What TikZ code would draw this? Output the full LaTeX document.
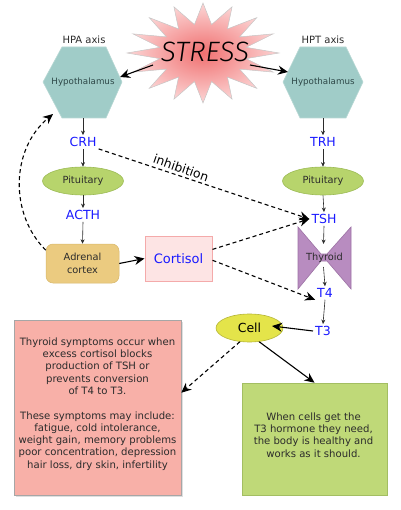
\documentclass[tikz,border=0pt]{standalone}
\usepackage{fontspec}
\setmainfont{DejaVu Sans}
\newfontfamily\stressfont{Fira Sans Light Italic}
\usetikzlibrary{arrows.meta,shapes.geometric,shadows}
\definecolor{hexfill}{HTML}{A0CCC8}
\definecolor{hexdraw}{HTML}{B8D8D4}
\definecolor{pitfill}{HTML}{B7D46C}
\definecolor{pitdraw}{HTML}{9CBB55}
\definecolor{adrfill}{HTML}{EBCB80}
\definecolor{adrdraw}{HTML}{D8B86C}
\definecolor{cortfill}{HTML}{FDE4E4}
\definecolor{cortdraw}{HTML}{F4AAAA}
\definecolor{thyfill}{HTML}{B88CC0}
\definecolor{thydraw}{HTML}{9C72A4}
\definecolor{cellfill}{HTML}{E4E44A}
\definecolor{celldraw}{HTML}{B4B436}
\definecolor{redfill}{HTML}{F8B0A8}
\definecolor{greenfill}{HTML}{BFD978}
\definecolor{greendraw}{HTML}{A3BE62}
\definecolor{hormone}{HTML}{1A1AFF}
\definecolor{darktext}{HTML}{2B2B2B}
\definecolor{hextext}{HTML}{2E4848}
\definecolor{starin}{HTML}{F07070}
\definecolor{starout}{HTML}{FCD6D6}
\begin{document}
\begin{tikzpicture}[x=1pt,y=-1pt,
  hormonetext/.style={text=hormone,font=\fontsize{12.5}{14}\selectfont,inner sep=2pt},
  smallarrow/.style={-{Stealth[length=4.5pt,width=4pt]},line width=0.6pt,draw=darktext},
  bigarrow/.style={-{Stealth[length=10pt,width=9pt]},line width=1.1pt,draw=black},
  dasharrow/.style={-{Stealth[length=10pt,width=9pt]},line width=1.1pt,draw=black,dash pattern=on 4pt off 3pt},
  pitstyle/.style={ellipse,fill=pitfill,draw=pitdraw,line width=0.6pt,minimum width=81pt,minimum height=28pt,inner sep=0pt,font=\fontsize{9.8}{12}\selectfont,text=darktext},
  hexlabel/.style={font=\fontsize{8.7}{10}\selectfont,text=hextext,minimum width=79pt,minimum height=71pt,inner sep=0pt},
  axislabel/.style={font=\fontsize{10}{12}\selectfont,text=darktext},
  infobox/.style={align=center,font=\fontsize{10.1}{12.3}\selectfont,text=darktext,inner sep=0pt}
]
\useasboundingbox (0,0) rectangle (400,510);

% star
\draw[draw=gray!45,line width=0.5pt,inner color=starin,outer color=starout]
  (203,3) \foreach \i in {1,...,31}{ -- ({203+(mod(\i,2)==0?76:44)*sin(\i*11.25)},{53-(mod(\i,2)==0?50:29)*cos(\i*11.25)}) } -- cycle;
\node (stress) at (205,52) {\stressfont\fontsize{28}{30}\selectfont STRESS};

% hexagons
\draw[fill=hexfill,draw=hexdraw,line width=0.6pt] (62,47) -- (106,47) -- (122,82) -- (106,118) -- (62,118) -- (43,82) -- cycle;
\draw[fill=hexfill,draw=hexdraw,line width=0.6pt] (300,47) -- (346,47) -- (363,82) -- (346,118) -- (300,118) -- (283,82) -- cycle;
\node[hexlabel] (hypL) at (83,82.5) {Hypothalamus};
\node[hexlabel] (hypR) at (323,82.5) {Hypothalamus};
\node[axislabel] (hpa) at (84,40) {HPA axis};
\node[axislabel] (hpt) at (323,40) {HPT axis};

% left column
\node[hormonetext] (crh) at (83,142) {CRH};
\node[pitstyle] (pitL) at (83,181) {Pituitary};
\node[hormonetext] (acth) at (83,215) {ACTH};
\node[rounded corners=7pt,fill=adrfill,draw=adrdraw,line width=0.5pt,minimum width=73pt,minimum height=39pt,inner sep=0pt,align=center,font=\fontsize{9.8}{13}\selectfont,text=darktext] (adr) at (82.5,263.5) {Adrenal\\cortex};
\node[fill=cortfill,draw=cortdraw,line width=1pt,minimum width=67pt,minimum height=45pt,inner sep=0pt,text=hormone,font=\fontsize{13}{15}\selectfont] (cort) at (178.5,258.5) {Cortisol};

% right column
\node[hormonetext] (trh) at (323,142) {TRH};
\node[pitstyle] (pitR) at (323,181) {Pituitary};
\node[hormonetext] (tsh) at (324,219) {TSH};
\draw[fill=thyfill,draw=thydraw,line width=0.6pt] (298,227) -- (321,254) -- (327,254) -- (351,227) -- (351,289) -- (327,261) -- (321,261) -- (298,289) -- cycle;
\node[font=\fontsize{9.8}{12}\selectfont,text=darktext] (thy) at (324.5,257.5) {Thyroid};
\coordinate (thyin) at (323.5,244);
\coordinate (thyout) at (323.5,267);
\node[hormonetext] (t4) at (325,293) {T4};
\node[hormonetext] (t3) at (323,331) {T3};

% cell and boxes
\node[ellipse,fill=cellfill,draw=celldraw,line width=0.6pt,minimum width=67pt,minimum height=28pt,inner sep=0pt,font=\fontsize{12.5}{14}\selectfont,text=black] (cell) at (249.5,328) {Cell};
\node[fill=redfill,draw=gray!70,line width=0.6pt,minimum width=167pt,minimum height=175pt,inner sep=0pt,
  drop shadow={shadow xshift=2pt,shadow yshift=-2pt,opacity=0.25}] (red) at (97.5,407.5) {};
\node[infobox] (redtext) at (97.5,404) {Thyroid symptoms occur when\\excess cortisol blocks\\production of TSH or\\prevents conversion\\of T4 to T3.\\[12.3pt]These symptoms may include:\\fatigue, cold intolerance,\\weight gain, memory problems\\poor concentration, depression\\hair loss, dry skin, infertility};
\node[fill=greenfill,draw=greendraw,line width=0.6pt,minimum width=145pt,minimum height=112pt,inner sep=0pt] (green) at (314.5,439) {};
\node[infobox] (greentext) at (313.5,435) {When cells get the\\T3 hormone they need,\\the body is healthy and\\works as it should.};

% inhibition label
\node[rotate=-19.5,font=\fontsize{12.4}{14}\selectfont,text=black,inner sep=0pt] (inhib) at (181,168) {inhibition};

% coordinates for connector ends
\coordinate (sL) at (153,65);
\coordinate (sR) at (250,65);
\coordinate (hLin) at (120,77);
\coordinate (hRin) at (288,72);
\coordinate (hLback) at (53,114);
\coordinate (cellin) at (272,326);

% connectors
\draw[bigarrow] (sL) -- (hLin);
\draw[bigarrow] (sR) -- (hRin);
\draw[smallarrow] (hypL.south) -- (crh.north);
\draw[smallarrow] (crh.south) -- (pitL.north);
\draw[smallarrow] (pitL.south) -- (acth.north);
\draw[smallarrow] (acth.south) -- (adr.north);
\draw[smallarrow] (hypR.south) -- (trh.north);
\draw[smallarrow] (trh.south) -- (pitR.north);
\draw[smallarrow] (pitR.south) -- (tsh.north);
\draw[smallarrow] (tsh.south) -- (thyin);
\draw[smallarrow] (thyout) -- (t4.north);
\draw[smallarrow] (t4.south) -- (t3.north);
\draw[bigarrow] (adr.east) -- (cort.west);
\draw[dasharrow] (adr.160) .. controls (10,215) and (10,150) .. (hLback);
\draw[dasharrow] (crh.south east) -- (tsh.west);
\draw[dasharrow] (cort.15) -- (tsh.west);
\draw[dasharrow] (cort.-3) -- (t4.south west);
\draw[bigarrow] (t3.west) -- (cellin);
\draw[bigarrow] (cell.-55) -- (green.north);
\draw[dasharrow] (cell.-125) -- (red.10);
\end{tikzpicture}
\end{document}
